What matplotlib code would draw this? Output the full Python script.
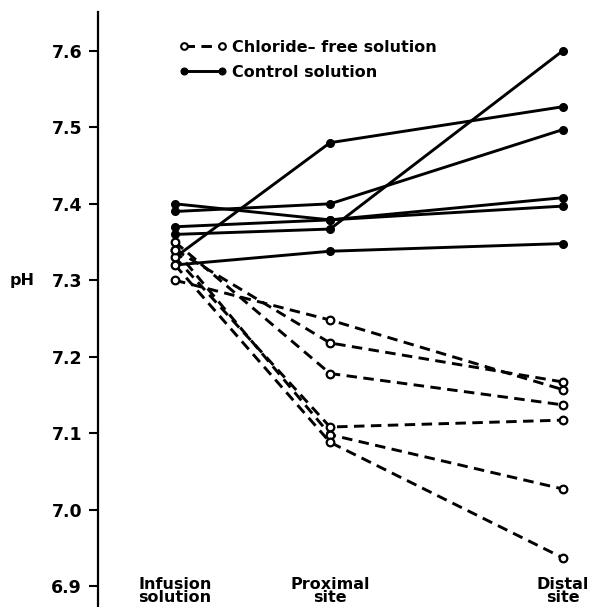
#!/usr/bin/env python
"""pH of infusion solution and of fluid recovered at proximal and distal sites.

Each line is one experiment: the chloride-free infusions (open circles,
dashed) and the control infusions (filled circles, solid).
"""

from __future__ import annotations

import matplotlib

matplotlib.use("Agg")
import matplotlib.pyplot as plt
from matplotlib.lines import Line2D


# --------------------------------------------------------------------------- #
# Data
# --------------------------------------------------------------------------- #
sites = ["Infusion\nsolution", "Proximal\nsite", "Distal\nsite"]
site_x = [0.0, 1.0, 2.5]  # distal site sits further along the axis

control_infusion = [7.33, 7.39, 7.40, 7.37, 7.36, 7.32]
control_proximal = [7.48, 7.40, 7.379, 7.379, 7.367, 7.338]
control_distal = [7.527, 7.497, 7.408, 7.397, 7.60, 7.348]

chloride_free_infusion = [7.30, 7.34, 7.35, 7.33, 7.34, 7.32]
chloride_free_proximal = [7.248, 7.218, 7.178, 7.108, 7.098, 7.088]
chloride_free_distal = [7.157, 7.167, 7.137, 7.117, 7.027, 6.937]

y_ticks = [6.9, 7.0, 7.1, 7.2, 7.3, 7.4, 7.5, 7.6]


# --------------------------------------------------------------------------- #
# Plotting
# --------------------------------------------------------------------------- #
def build_figure(output_path: str = "out.png") -> None:
    plt.rcParams["font.family"] = ["DejaVu Sans"]
    plt.rcParams["font.weight"] = "bold"

    fig = plt.figure(figsize=(5.94, 6.07), dpi=100, facecolor="white")
    # left spine at ~98 px, axes running to the bottom edge
    ax = fig.add_axes([98 / 594, 0.0, 1 - 98 / 594, 1 - 12 / 607])

    lw = 2.1
    dash = (0, (3.6, 2.2))

    for a, b, c in zip(control_infusion, control_proximal, control_distal):
        ax.plot(site_x, [a, b, c], color="black", lw=lw, marker="o",
                ms=5.5, mfc="black", mec="black", zorder=3)

    for a, b, c in zip(chloride_free_infusion, chloride_free_proximal,
                       chloride_free_distal):
        ax.plot(site_x, [a, b, c], color="black", lw=lw, linestyle=dash,
                marker="o", ms=5.5, mfc="white", mec="black", mew=1.6,
                zorder=4)

    ax.set_ylim(6.8725, 7.651)
    ax.set_xlim(-0.497, 2.703)
    ax.set_yticks(y_ticks)
    ax.set_yticklabels([f"{t:.1f}" for t in y_ticks])
    ax.set_xticks([])

    for side in ("top", "right", "bottom"):
        ax.spines[side].set_visible(False)
    ax.spines["left"].set_linewidth(1.6)
    ax.tick_params(axis="y", direction="out", length=6.5, width=1.5,
                   labelsize=12.5, pad=5)

    # pH label sits well left of the tick labels (~22 px from the edge)
    ax.text(-0.152, 7.3, "pH", transform=ax.get_yaxis_transform(),
            ha="center", va="center", fontsize=11.5, fontweight="bold")

    # site labels under the lines, pushed as low as they fit
    for x, label in zip(site_x, sites):
        ax.text(x, 6.8745, label, ha="center", va="bottom", fontsize=11.5,
                fontweight="bold", linespacing=0.85, clip_on=False)

    handles = [
        Line2D([], [], color="black", lw=lw, linestyle=dash, marker="o",
               ms=4.8, mfc="white", mec="black", mew=1.5),
        Line2D([], [], color="black", lw=lw, marker="o", ms=4.8,
               mfc="black", mec="black"),
    ]
    ax.legend(handles, ["Chloride\u2013 free solution", "Control solution"],
              loc="upper left", bbox_to_anchor=(0.163, 0.953),
              frameon=False, numpoints=2, handlelength=3.0,
              handletextpad=0.35, labelspacing=0.6, borderpad=0,
              borderaxespad=0, prop={"size": 11.5, "weight": "bold"})

    fig.savefig(output_path, dpi=100)


def main() -> None:
    build_figure("out.png")


if __name__ == "__main__":
    main()
